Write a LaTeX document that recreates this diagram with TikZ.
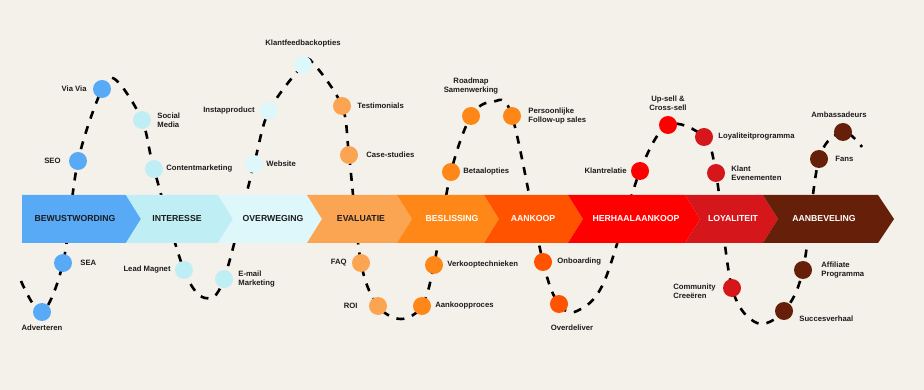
\documentclass[tikz,border=0pt]{standalone}
\usepackage{fontspec}
\setmainfont{Liberation Sans}
\usepackage{xcolor}
\usepackage{tikz}
\usetikzlibrary{positioning}

\definecolor{bgcream}{HTML}{F4F1EB}
\definecolor{inkdark}{HTML}{1C1C1C}
\definecolor{cBewust}{HTML}{58AAF7}
\definecolor{cInter}{HTML}{BFEEF5}
\definecolor{cOverw}{HTML}{DDF7FB}
\definecolor{cEval}{HTML}{FBA552}
\definecolor{cBeslis}{HTML}{FF8718}
\definecolor{cAankoop}{HTML}{FF5300}
\definecolor{cHerhaal}{HTML}{FF0000}
\definecolor{cLoyal}{HTML}{D5171B}
\definecolor{cAanbev}{HTML}{66200A}

\pgfdeclarelayer{curvelayer}
\pgfdeclarelayer{bandlayer}
\pgfsetlayers{curvelayer,bandlayer,main}

\begin{document}
\begin{tikzpicture}[x=1pt, y=-1pt,
    dot/.style={circle, minimum size=18pt, inner sep=0pt},
    lbl/.style={inner sep=0pt, align=left, text=inkdark,
        font=\fontsize{7.7}{9}\selectfont\bfseries},
    stage/.style={inner sep=0pt, font=\fontsize{8.7}{10}\selectfont\bfseries},
    journey/.style={line width=2.6pt, dash pattern=on 8pt off 8pt}]
    \useasboundingbox (0,0) rectangle (924,390);

    % Touchpoints per fase
    \node[dot, fill=cBewust] (advert) at (42,312) {};
    \node[dot, fill=cBewust] (sea) at (63,263) {};
    \node[dot, fill=cBewust] (seo) at (78,161) {};
    \node[dot, fill=cBewust] (viavia) at (102,89) {};
    \node[dot, fill=cInter] (social) at (142,120) {};
    \node[dot, fill=cInter] (content) at (154,169) {};
    \node[dot, fill=cInter] (leadmag) at (184,270) {};
    \node[dot, fill=cInter] (email) at (224,279) {};
    \node[dot, fill=cOverw] (website) at (254,164) {};
    \node[dot, fill=cOverw] (instap) at (269,111) {};
    \node[dot, fill=cOverw] (feedback) at (303,65) {};
    \node[dot, fill=cEval] (testim) at (342,106) {};
    \node[dot, fill=cEval] (cases) at (349,155) {};
    \node[dot, fill=cEval] (faq) at (361,263) {};
    \node[dot, fill=cEval] (roi) at (378,306) {};
    \node[dot, fill=cBeslis] (proces) at (422,306) {};
    \node[dot, fill=cBeslis] (techniek) at (434,265) {};
    \node[dot, fill=cBeslis] (betaal) at (451,172) {};
    \node[dot, fill=cBeslis] (roadmap) at (471,116) {};
    \node[dot, fill=cBeslis] (followup) at (512,116) {};
    \node[dot, fill=cAankoop] (onboard) at (543,262) {};
    \node[dot, fill=cAankoop] (overdel) at (559,304) {};
    \node[dot, fill=cHerhaal] (relatie) at (640,171) {};
    \node[dot, fill=cHerhaal] (upsell) at (668,125) {};
    \node[dot, fill=cLoyal] (loyprog) at (704,137) {};
    \node[dot, fill=cLoyal] (events) at (716,173) {};
    \node[dot, fill=cLoyal] (community) at (732,288) {};
    \node[dot, fill=cAanbev] (succes) at (784,311) {};
    \node[dot, fill=cAanbev] (affiliate) at (803,270) {};
    \node[dot, fill=cAanbev] (fans) at (819,159) {};
    \node[dot, fill=cAanbev] (ambass) at (843,132) {};

    \node[lbl, below=4pt of advert] {Adverteren};
    \node[lbl, right=8pt of sea] {SEA};
    \node[lbl, left=8pt of seo] {SEO};
    \node[lbl, left=6pt of viavia] {Via Via};
    \node[lbl, right=6pt of social] {Social\\Media};
    \node[lbl, right=3pt of content] {Contentmarketing};
    \node[lbl, left=4pt of leadmag] {Lead Magnet};
    \node[lbl, right=5pt of email] {E-mail\\Marketing};
    \node[lbl, right=3pt of website] {Website};
    \node[lbl, left=5pt of instap] {Instapproduct};
    \node[lbl, above=8pt of feedback] {Klantfeedbackopties};
    \node[lbl, right=6pt of testim] {Testimonials};
    \node[lbl, right=8pt of cases] {Case-studies};
    \node[lbl, left=5pt of faq] {FAQ};
    \node[lbl, left=11pt of roi] {ROI};
    \node[lbl, right=4pt of proces] {Aankoopproces};
    \node[lbl, right=4pt of techniek] {Verkooptechnieken};
    \node[lbl, right=3pt of betaal] {Betaalopties};
    \node[lbl, align=center, above=12pt of roadmap] {Roadmap\\Samenwerking};
    \node[lbl, right=7pt of followup] {Persoonlijke\\Follow-up sales};
    \node[lbl, right=5pt of onboard] {Onboarding};
    \node[lbl, below=12pt of overdel, xshift=13pt] {Overdeliver};
    \node[lbl, left=4pt of relatie] {Klantrelatie};
    \node[lbl, align=center, above=5pt of upsell] {Up-sell \&\\Cross-sell};
    \node[lbl, right=5pt of loyprog] {Loyaliteitprogramma};
    \node[lbl, right=6pt of events] {Klant\\Evenementen};
    \node[lbl, left=7pt of community, yshift=-3pt] {Community\\Creeëren};
    \node[lbl, right=6pt of succes, yshift=-8pt] {Succesverhaal};
    \node[lbl, right=9pt of affiliate] {Affiliate\\Programma};
    \node[lbl, right=7pt of fans] {Fans};
    \node[lbl, above=5pt of ambass, xshift=-4pt] {Ambassadeurs};

    % de klantreis als stippellijn achter de pijl
    \coordinate (start) at (21,281);
    \coordinate (top1) at (116,80);
    \coordinate (dip1) at (205,298);
    \coordinate (top2) at (313,63);
    \coordinate (dip2) at (401,319);
    \coordinate (top3) at (492,102);
    \coordinate (dip3) at (577,311);
    \coordinate (rise) at (604,282);
    \coordinate (dip4) at (757,323);
    \coordinate (finish) at (862,147);
    \begin{pgfonlayer}{curvelayer}
        \fill[bgcream] (0,0) rectangle (924,390);
        \draw[journey] plot[smooth, tension=0.55] coordinates {
            (start) (advert.center) (sea.center) (seo.center) (viavia.center)
            (top1) (social.center) (content.center) (leadmag.center) (dip1)
            (email.center) (website.center) (instap.center) (feedback.center)
            (top2) (testim.center) (cases.center) (faq.center) (roi.center)
            (dip2) (proces.center) (techniek.center) (betaal.center)
            (roadmap.center) (top3) (followup.center) (onboard.center)
            (overdel.center) (dip3) (rise) (relatie.center) (upsell.center)
            (loyprog.center) (events.center) (community.center) (dip4)
            (succes.center) (affiliate.center) (fans.center) (ambass.center)
            (finish)};
    \end{pgfonlayer}

    % Fasen van de pijl
    \begin{pgfonlayer}{bandlayer}
        \fill[cBewust] (22,195) -- (126,195) -- (141,219) -- (126,243) -- (22,243) -- cycle;
        \fill[cInter] (126,195) -- (218,195) -- (233,219) -- (218,243) -- (126,243) -- (141,219) -- cycle;
        \fill[cOverw] (218,195) -- (307,195) -- (322,219) -- (307,243) -- (218,243) -- (233,219) -- cycle;
        \fill[cEval] (307,195) -- (397,195) -- (412,219) -- (397,243) -- (307,243) -- (322,219) -- cycle;
        \fill[cBeslis] (397,195) -- (484,195) -- (499,219) -- (484,243) -- (397,243) -- (412,219) -- cycle;
        \fill[cAankoop] (484,195) -- (568,195) -- (583,219) -- (568,243) -- (484,243) -- (499,219) -- cycle;
        \fill[cHerhaal] (568,195) -- (685,195) -- (700,219) -- (685,243) -- (568,243) -- (583,219) -- cycle;
        \fill[cLoyal] (685,195) -- (763,195) -- (778,219) -- (763,243) -- (685,243) -- (700,219) -- cycle;
        \fill[cAanbev] (763,195) -- (878,195) -- (894,219) -- (878,243) -- (763,243) -- (778,219) -- cycle;
    \end{pgfonlayer}

    \node[stage, text=inkdark] (bewust) at (75,219) {BEWUSTWORDING};
    \node[stage, text=inkdark] (interesse) at (177,219) {INTERESSE};
    \node[stage, text=inkdark] (overweging) at (273,219) {OVERWEGING};
    \node[stage, text=inkdark] (evaluatie) at (361,219) {EVALUATIE};
    \node[stage, text=white] (beslissing) at (452,219) {BESLISSING};
    \node[stage, text=white] (aankoop) at (533,219) {AANKOOP};
    \node[stage, text=white] (herhaal) at (636,219) {HERHAALAANKOOP};
    \node[stage, text=white] (loyaliteit) at (733,219) {LOYALITEIT};
    \node[stage, text=white] (aanbeveling) at (824,219) {AANBEVELING};
\end{tikzpicture}
\end{document}
